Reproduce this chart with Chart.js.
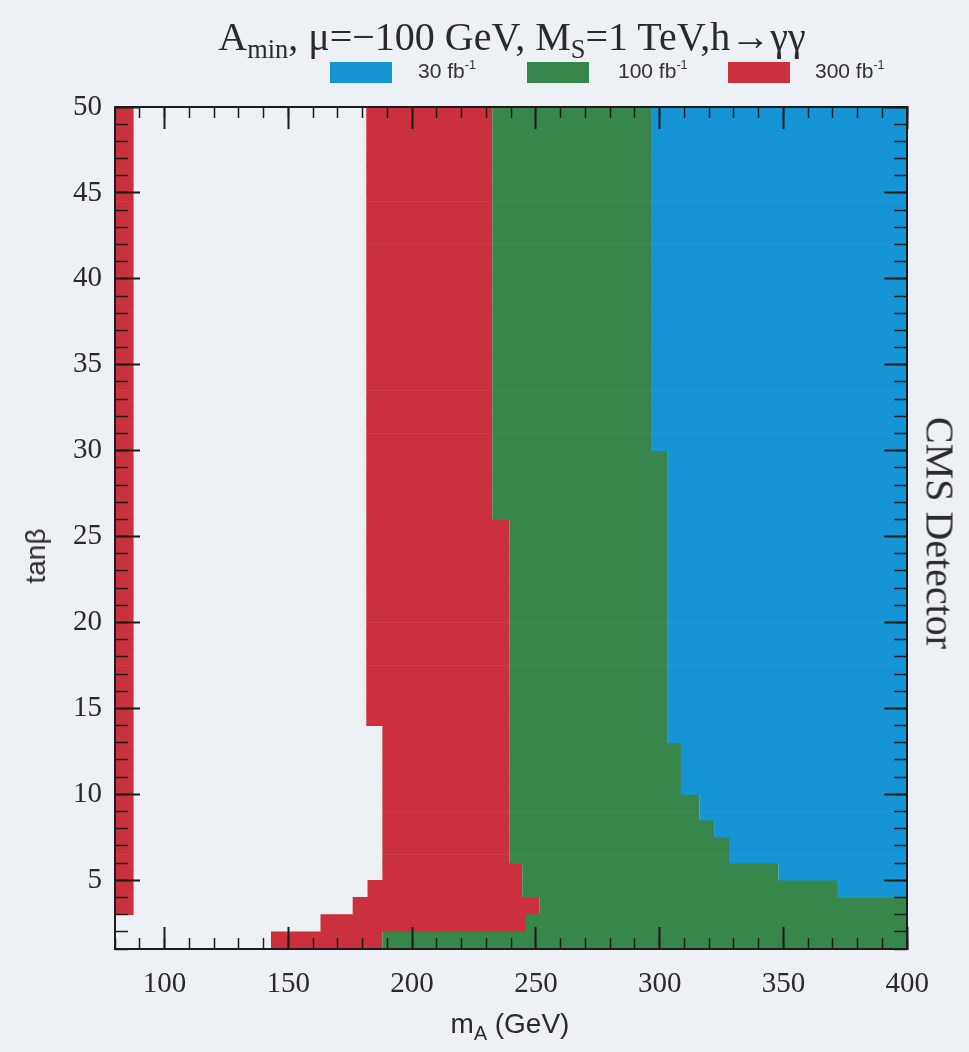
<!DOCTYPE html>
<html>
<head>
<meta charset="utf-8">
<script src="https://cdn.jsdelivr.net/npm/chart.js@4/dist/chart.umd.min.js"></script>
<style>
  html, body { margin: 0; padding: 0; background: #edf0f5; }
  #wrap { position: relative; width: 969px; height: 1052px; overflow: hidden; background: #edf0f5; }
  #c { position: absolute; left: 0; top: 0; }
  .txt { position: absolute; white-space: nowrap; color: #2a2a2a; }
  #title { left: 0; width: 1024px; top: 13px; text-align: center; font: 40px "Liberation Serif", "Times New Roman", serif; }
  #title sub { font-size: 0.66em; vertical-align: -0.32em; line-height: 0; }
  .lbox { position: absolute; width: 62px; height: 21px; top: 62px; }
  .ltxt { position: absolute; top: 59px; font: 21px "Liberation Sans", Arial, sans-serif; color: #333; }
  .ltxt sup { font-size: 0.6em; vertical-align: 0.75em; line-height: 0; }
  #ytitle { left: 36px; top: 556px; transform: translate(-50%, -50%) rotate(-90deg); font: 28px "Liberation Sans", Arial, sans-serif; }
  #xtitle { left: 510px; top: 1024px; transform: translate(-50%, -50%); font: 28px "Liberation Sans", Arial, sans-serif; }
  #xtitle sub { font-size: 0.7em; vertical-align: -0.35em; line-height: 0; }
  #rtitle { left: 940px; top: 533px; transform: translate(-50%, -50%) rotate(90deg); font: 40px "Liberation Serif", "Times New Roman", serif; }
</style>
</head>
<body>
<div id="wrap">
  <canvas id="c" width="969" height="1052"></canvas>
  <div id="title" class="txt">A<sub>min</sub>, μ=−100 GeV, M<sub>S</sub>=1 TeV,h→γγ</div>
  <div id="ytitle" class="txt">tanβ</div>
  <div id="xtitle" class="txt">m<sub>A</sub> (GeV)</div>
  <div id="rtitle" class="txt">CMS Detector</div>
</div>
<script>
// ---- data ----
const seriesLabels = ['30 fb⁻¹', '100 fb⁻¹', '300 fb⁻¹'];
const seriesColors = ['#1595d6', '#37874c', '#cb313d'];
const mARange = [80, 400];      // m_A (GeV) axis range
const tanbRange = [1, 50];      // tanβ axis range
const xMajorStep = 50, xMinorStep = 10;
const yMajorStep = 5, yMinorStep = 1;
// step tables: [tanβ from, tanβ to, m_A (GeV)]
const redStart  = [[1, 2, 143], [2, 3, 163], [3, 4, 176], [4, 5, 182], [5, 14, 188], [14, 50, 181.5]];
const redEnd    = [[1, 2, 188], [2, 3, 246], [3, 4, 251.5], [4, 6, 244.5], [6, 26, 239.3], [26, 50, 232.4]];
const blueStart = [[4, 5, 372], [5, 6, 348], [6, 7.5, 328], [7.5, 8.5, 322], [8.5, 10, 316], [10, 13, 308.6], [13, 30, 303], [30, 50, 296.5]];
// left 300 fb⁻¹ strip: [tanβ from, tanβ to, m_A from, m_A to]
const redStrip  = [[3, 50, 80, 87.5]];

// ---- build rows (tanβ bands of 0.5) ----
function lookup(table, y) {
  for (const [lo, hi, v] of table) if (y >= lo && y < hi) return v;
  return null;
}
const rows = [];
for (let y = tanbRange[0] + 0.25; y < tanbRange[1]; y += 0.5) rows.push(y);

const blueData = rows.filter(y => lookup(blueStart, y) !== null)
  .map(y => ({ y, x: [lookup(blueStart, y), mARange[1]] }));
const greenData = rows.map(y => {
  const b = lookup(blueStart, y);
  return { y, x: [lookup(redEnd, y), b === null ? mARange[1] : b] };
});
const redData = rows.map(y => ({ y, x: [lookup(redStart, y), lookup(redEnd, y)] }));
const stripData = [];
for (const [lo, hi, a, b] of redStrip) rows.filter(y => y >= lo && y < hi).forEach(y => stripData.push({ y, x: [a, b] }));

// ---- legend (HTML) ----
const legendBoxX = [330, 527, 728], legendTextX = [418, 618, 815];
const wrap = document.getElementById('wrap');
seriesLabels.forEach((lab, i) => {
  const b = document.createElement('div');
  b.className = 'lbox'; b.style.left = legendBoxX[i] + 'px'; b.style.background = seriesColors[i];
  wrap.appendChild(b);
  const t = document.createElement('div');
  t.className = 'ltxt'; t.style.left = legendTextX[i] + 'px';
  t.innerHTML = lab.replace('⁻¹', '<sup>-1</sup>');
  wrap.appendChild(t);
});

// ---- chart ----
const ink = '#1c1c1c';
const serif = '"Liberation Serif", "Times New Roman", serif';
function tickAxis(axis, position, step, len, width, weight, border, fit) {
  const isX = axis === 'x';
  return {
    type: 'linear', position, weight, offset: false,
    min: isX ? mARange[0] : tanbRange[0], max: isX ? mARange[1] : tanbRange[1],
    ticks: { display: false, stepSize: step, maxTicksLimit: 1000, includeBounds: false },
    grid: { offset: false, drawOnChartArea: false, tickLength: len, tickWidth: width, tickColor: ink, z: 2 },
    border: { display: border, color: ink, width: 2, z: 2 },
    afterFit: s => { if (isX) s.height = fit; else s.width = fit; }
  };
}

const ds = (label, data, color) => ({
  label, data, backgroundColor: color, borderWidth: 0,
  grouped: false, barPercentage: 1.08, categoryPercentage: 1
});

new Chart(document.getElementById('c'), {
  type: 'bar',
  data: {
    datasets: [
      ds(seriesLabels[0], blueData, seriesColors[0]),
      ds(seriesLabels[1], greenData, seriesColors[1]),
      ds(seriesLabels[2], redData, seriesColors[2]),
      ds(seriesLabels[2] + ' ', stripData, seriesColors[2])
    ]
  },
  options: {
    indexAxis: 'y',
    responsive: false,
    animation: false,
    layout: { padding: { top: 107, right: 60, left: 0, bottom: 0 } },
    plugins: { legend: { display: false }, tooltip: { enabled: false } },
    scales: {
      x: {
        type: 'linear', position: 'bottom', weight: 1, offset: false, min: mARange[0], max: mARange[1],
        ticks: { stepSize: xMajorStep, includeBounds: false, maxTicksLimit: 1000, padding: 40,
                 color: '#2a2a2a', font: { family: serif, size: 29 } },
        grid: { offset: false, drawOnChartArea: false, tickLength: -22, tickWidth: 2, tickColor: ink, z: 2 },
        border: { display: true, color: ink, width: 2, z: 2 },
        afterFit: s => { s.height = 103; }
      },
      xm: tickAxis('x', 'bottom', xMinorStep, -11, 1.5, 0, false, 0),
      xt: tickAxis('x', 'top', xMajorStep, -22, 2, 1, true, 0),
      xtm: tickAxis('x', 'top', xMinorStep, -11, 1.5, 0, false, 0),
      y: {
        type: 'linear', position: 'left', weight: 1, offset: false, min: tanbRange[0], max: tanbRange[1],
        ticks: { stepSize: yMajorStep, includeBounds: false, maxTicksLimit: 1000, padding: 38,
                 color: '#2a2a2a', font: { family: serif, size: 29 } },
        grid: { offset: false, drawOnChartArea: false, tickLength: -25, tickWidth: 2, tickColor: ink, z: 2 },
        border: { display: true, color: ink, width: 2, z: 2 },
        afterFit: s => { s.width = 115; }
      },
      ym: tickAxis('y', 'left', yMinorStep, -13, 1.5, 0, false, 0),
      yr: tickAxis('y', 'right', yMajorStep, -23, 2, 1, true, 0),
      yrm: tickAxis('y', 'right', yMinorStep, -13, 1.5, 0, false, 0)
    }
  }
});
</script>
</body>
</html>
